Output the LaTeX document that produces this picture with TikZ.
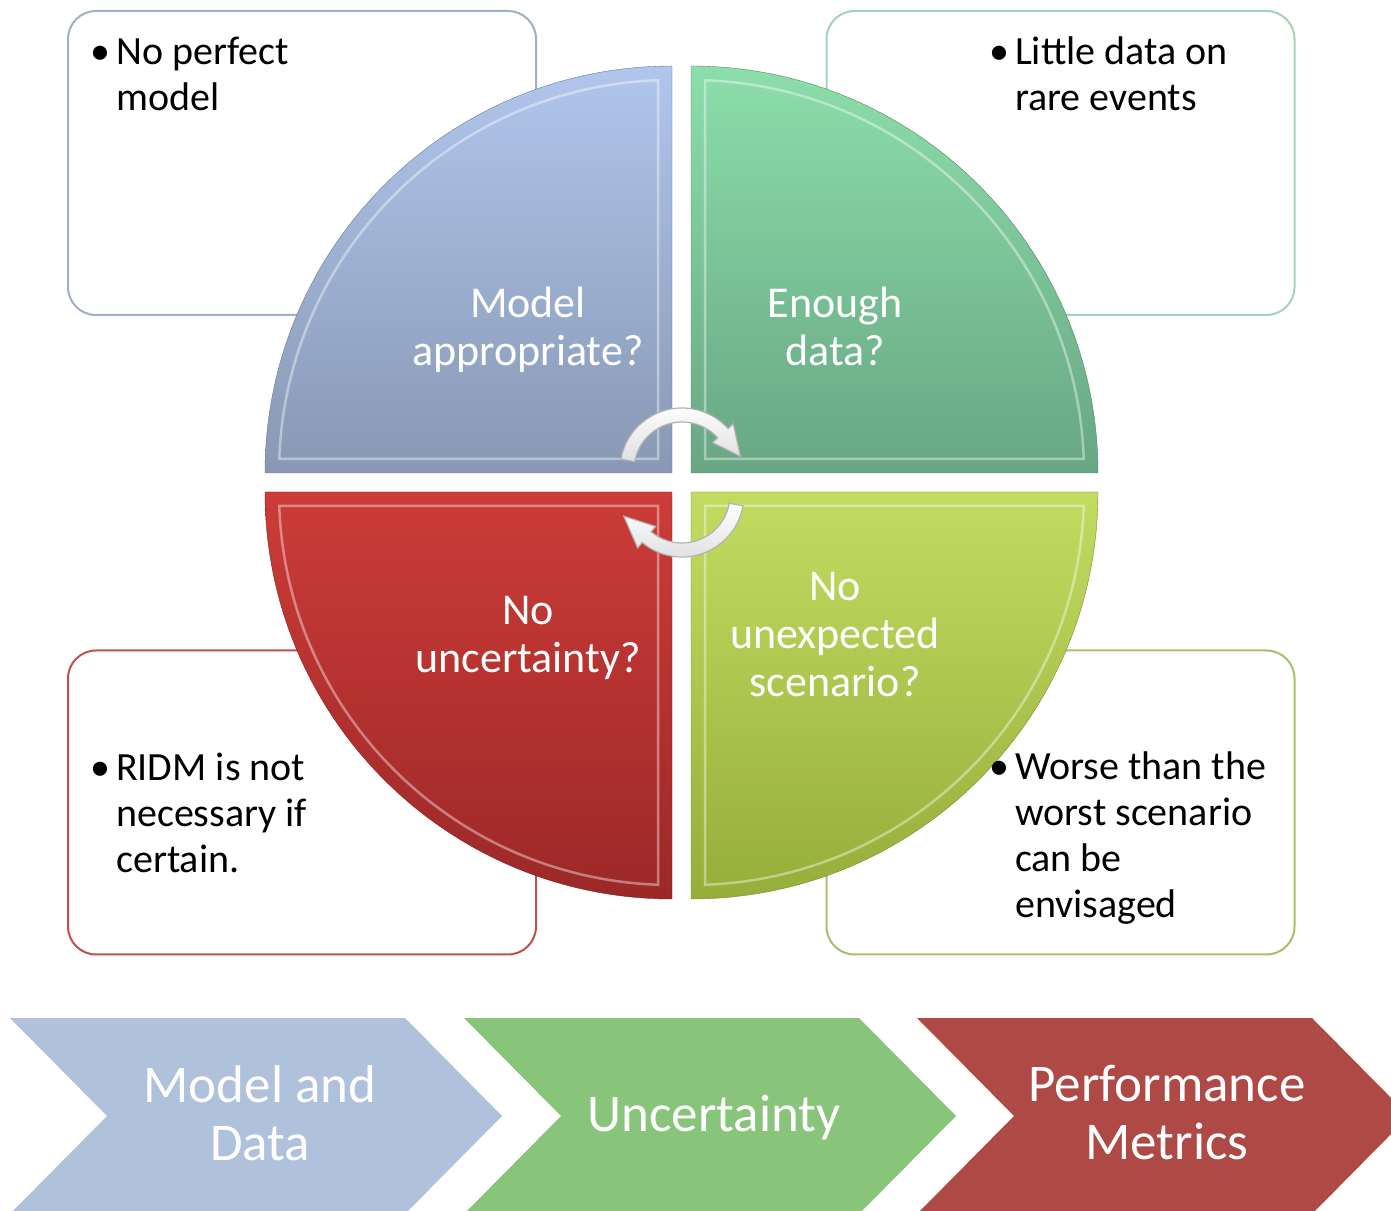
\documentclass[tikz,border=0pt]{standalone}
\usepackage{fontspec}
\setmainfont{Carlito}
\usetikzlibrary{positioning}
\definecolor{BoxBlue}{RGB}{160, 174, 198}
\definecolor{BoxGreen}{RGB}{160, 214, 184}
\definecolor{BoxRed}{RGB}{192, 80, 77}
\definecolor{BoxLime}{RGB}{165, 192, 104}
\definecolor{QuadBlueTop}{RGB}{176, 198, 236}
\definecolor{QuadBlueBot}{RGB}{136, 152, 180}
\definecolor{QuadGreenTop}{RGB}{140, 222, 170}
\definecolor{QuadGreenBot}{RGB}{104, 166, 132}
\definecolor{QuadRedTop}{RGB}{204, 60, 56}
\definecolor{QuadRedBot}{RGB}{156, 40, 40}
\definecolor{QuadLimeTop}{RGB}{194, 220, 98}
\definecolor{QuadLimeBot}{RGB}{150, 174, 58}
\definecolor{ChevBlue}{RGB}{176, 193, 220}
\definecolor{ChevGreen}{RGB}{136, 197, 122}
\definecolor{ChevRed}{RGB}{174, 73, 69}

\begin{document}
\begin{tikzpicture}[x=1pt,y=1pt,
    infobox/.style={draw, line width=2pt, rounded corners=28pt, minimum width=468pt, minimum height=304pt, inner sep=0pt},
    boxtext/.style={font=\fontsize{40}{46}\selectfont, align=left, inner sep=0pt, anchor=base west},
    quadtext/.style={font=\fontsize{44}{48}\selectfont, align=center, text=white, inner sep=0pt, anchor=base},
    chevtext/.style={font=\fontsize{53}{58}\selectfont, align=center, text=white, inner sep=0pt},
    bevel/.style={draw=white, draw opacity=0.4, line width=2.5pt},
    turnarrow/.style={draw=gray!60, line width=1.2pt, top color=white, bottom color=gray!25}]
    \clip (0,0) rectangle (1391,1210);

    % boxes behind the circle
    \node[infobox, draw=BoxBlue] (boxMA) at (302,1047) {};
    \node[infobox, draw=BoxGreen] (boxED) at (1060.5,1047) {};
    \node[infobox, draw=BoxRed] (boxNU) at (302,407.5) {};
    \node[infobox, draw=BoxLime] (boxNS) at (1060.5,407.5) {};

    % the four quarters
    \draw[top color=QuadBlueTop, bottom color=QuadBlueBot, draw=QuadBlueBot!80!black] (672,737) -- (265,737) arc[start angle=180, end angle=90, radius=407] -- cycle;
    \draw[bevel] (658,751) -- (279.25,751) arc[start angle=177.96, end angle=92.04, radius=393] -- cycle;
    \draw[top color=QuadGreenTop, bottom color=QuadGreenBot, draw=QuadGreenBot!80!black] (691,737) -- (691,1144) arc[start angle=90, end angle=0, radius=407] -- cycle;
    \draw[bevel] (705,751) -- (705,1129.75) arc[start angle=87.96, end angle=2.04, radius=393] -- cycle;
    \draw[top color=QuadRedTop, bottom color=QuadRedBot, draw=QuadRedBot!80!black] (672,718) -- (672,311) arc[start angle=270, end angle=180, radius=407] -- cycle;
    \draw[bevel] (658,704) -- (658,325.25) arc[start angle=267.96, end angle=182.04, radius=393] -- cycle;
    \draw[top color=QuadLimeTop, bottom color=QuadLimeBot, draw=QuadLimeBot!80!black] (691,718) -- (1098,718) arc[start angle=0, end angle=-90, radius=407] -- cycle;
    \draw[bevel] (705,704) -- (1083.75,704) arc[start angle=-2.04, end angle=-87.96, radius=393] -- cycle;

    \node[quadtext] (qMA) at (528,844) {Model\\appropriate?};
    \node[quadtext] (qED) at (835,844) {Enough\\data?};
    \node[quadtext] (qNU) at (528,537) {No\\uncertainty?};
    \node[quadtext] (qNS) at (835,513) {No\\unexpected\\scenario?};

    % turning arrows in the middle
    \coordinate (topturn) at (682,740);
    \coordinate (botturn) at (682,715);
    \draw[turnarrow] ([shift={(topturn)}]170:62) arc[start angle=170, end angle=42, radius=62]
        -- ([shift={(topturn)}]42:69) -- ([shift={(topturn)}]13:60) -- ([shift={(topturn)}]42:41)
        -- ([shift={(topturn)}]42:48) arc[start angle=42, end angle=170, radius=48] -- cycle;
    \draw[turnarrow] ([shift={(botturn)}]-10:62) arc[start angle=-10, end angle=-130, radius=62]
        -- ([shift={(botturn)}]-130:69) -- ([shift={(botturn)}]-160:62) -- ([shift={(botturn)}]-130:41)
        -- ([shift={(botturn)}]-130:48) arc[start angle=-130, end angle=-10, radius=48] -- cycle;

    % texts in the boxes
    \node[boxtext] (tMA) at (90,1099) {\makebox[26pt][l]{\textbullet}No perfect\\\hspace*{26pt}model};
    \node[boxtext] (tED) at (989,1099) {\makebox[26pt][l]{\textbullet}Little data on\\\hspace*{26pt}rare events};
    \node[boxtext] (tNU) at (90,337) {\makebox[26pt][l]{\textbullet}RIDM is not\\\hspace*{26pt}necessary if\\\hspace*{26pt}certain.};
    \node[boxtext] (tNS) at (989,292) {\makebox[26pt][l]{\textbullet}Worse than the\\\hspace*{26pt}worst scenario\\\hspace*{26pt}can be\\\hspace*{26pt}envisaged};

    % chevrons
    \foreach \a/\col in {10/ChevBlue, 464/ChevGreen, 917/ChevRed}
        \fill[\col] (\a,192) -- ++(395,0) -- ++(97,-98) -- ++(-97,-98) -- ++(-395,0) -- ++(97,98) -- cycle;
    \node[chevtext] (cMD) at (260,97) {Model and\\Data};
    \node[chevtext] (cUN) at (714,92) {Uncertainty};
    \node[chevtext] (cPM) at (1167,97) {Performance\\Metrics};
\end{tikzpicture}
\end{document}
